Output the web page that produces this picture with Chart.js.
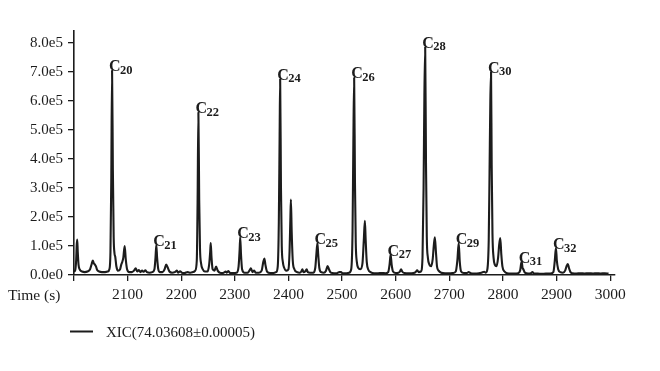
<!DOCTYPE html>
<html>
<head>
<meta charset="utf-8">
<script src="https://cdn.jsdelivr.net/npm/chart.js@4"></script>
<style>
  html, body { margin: 0; padding: 0; background: #ffffff; }
  #wrap { width: 660px; height: 371px; position: relative; }
</style>
</head>
<body>
<div id="wrap"><canvas id="c" width="660" height="371"></canvas></div>
<script>
// ---- data ----
const seriesName = 'XIC(74.03608\u00b10.00005)';
const xAxisTitle = 'Time (s)';
const xTicks = [2000, 2100, 2200, 2300, 2400, 2500, 2600, 2700, 2800, 2900, 3000];
const yTicks = [0, 1e5, 2e5, 3e5, 4e5, 5e5, 6e5, 7e5, 8e5];

const times = [
  2000, 2002, 2004, 2005, 2006, 2007, 2008.5, 2011, 2015, 2020, 2025, 2030, 2033, 2035, 2037, 2039, 2041, 2043, 2047, 2052,
  2058, 2063, 2066, 2068, 2069.5, 2071, 2072.5, 2074, 2075.5, 2077, 2079, 2082, 2086, 2088, 2090, 2092, 2094.5, 2096.5, 2099, 2103,
  2108, 2112, 2115, 2118, 2121, 2124, 2127, 2130, 2133, 2136, 2141, 2146, 2150, 2152, 2153.5, 2155, 2157, 2160, 2165, 2169,
  2172, 2175, 2178, 2183, 2188, 2192, 2194, 2198, 2201, 2206, 2212, 2217, 2222, 2226, 2229, 2230.5, 2232, 2233.5, 2235, 2237,
  2240, 2244, 2249, 2252, 2254, 2255, 2256.5, 2258.5, 2262, 2265, 2268, 2272, 2278, 2283, 2285, 2288, 2291, 2297, 2303, 2307,
  2309, 2310, 2311.5, 2313.5, 2318, 2324, 2328, 2330, 2333, 2336, 2339, 2345, 2350, 2353, 2355, 2357, 2360, 2366, 2372, 2377,
  2380, 2382, 2383.5, 2384.5, 2386, 2387.5, 2389.5, 2392, 2396, 2400, 2402, 2403.5, 2404.5, 2406, 2408, 2411, 2416, 2421, 2424, 2426,
  2428, 2431, 2434, 2436, 2440, 2446, 2450, 2452, 2454, 2455.5, 2457.5, 2461, 2466, 2470, 2473, 2475.5, 2479, 2485, 2490, 2495,
  2498, 2501, 2507, 2513, 2517, 2519.5, 2521, 2522.5, 2524, 2525.5, 2527.5, 2530, 2534, 2538, 2540.5, 2542.5, 2544, 2546, 2549, 2553,
  2560, 2567, 2574, 2581, 2586, 2588.5, 2590.5, 2592.5, 2595, 2600, 2605, 2608, 2610, 2612, 2616, 2625, 2633, 2637, 2640, 2643,
  2647, 2650, 2652, 2653.5, 2655, 2656.5, 2658, 2660, 2663, 2666, 2669, 2671, 2673, 2675, 2677, 2680, 2685, 2692, 2700, 2707,
  2712, 2715, 2717.5, 2719.5, 2722, 2727, 2733, 2736, 2740, 2748, 2755, 2760, 2765, 2768, 2771, 2773.5, 2775, 2776.5, 2777.8, 2779,
  2780.5, 2782.5, 2785, 2788, 2791, 2793, 2795, 2797, 2799, 2803, 2808, 2815, 2822, 2828, 2832, 2834, 2835, 2836.5, 2838, 2841,
  2847, 2852, 2855, 2858, 2865, 2872, 2880, 2888, 2894, 2896.5, 2898, 2899, 2900.5, 2903, 2907, 2912, 2916, 2919, 2921, 2923,
  2926, 2930, 2937, 2945, 2952, 2960, 2968, 2975, 2982, 2990, 2997
];
const intensity = [
  0.12e5, 0.15e5, 0.5e5, 1.0e5, 1.22e5, 0.8e5, 0.35e5, 0.18e5, 0.12e5, 0.1e5, 0.12e5, 0.2e5, 0.38e5, 0.5e5, 0.4e5, 0.36e5, 0.3e5, 0.18e5, 0.12e5, 0.1e5,
  0.1e5, 0.12e5, 0.2e5, 0.8e5, 3.2e5, 7.05e5, 3.6e5, 1.3e5, 0.75e5, 0.62e5, 0.3e5, 0.15e5, 0.2e5, 0.35e5, 0.45e5, 0.6e5, 1.0e5, 0.55e5, 0.2e5, 0.1e5,
  0.1e5, 0.15e5, 0.23e5, 0.12e5, 0.17e5, 0.1e5, 0.15e5, 0.11e5, 0.16e5, 0.1e5, 0.08e5, 0.1e5, 0.2e5, 0.6e5, 1.03e5, 0.6e5, 0.22e5, 0.1e5, 0.1e5, 0.2e5,
  0.36e5, 0.25e5, 0.12e5, 0.08e5, 0.1e5, 0.15e5, 0.08e5, 0.13e5, 0.08e5, 0.07e5, 0.1e5, 0.08e5, 0.1e5, 0.15e5, 0.5e5, 2.5e5, 5.6e5, 2.6e5, 0.9e5, 0.4e5,
  0.2e5, 0.12e5, 0.12e5, 0.35e5, 0.8e5, 1.1e5, 0.6e5, 0.2e5, 0.15e5, 0.29e5, 0.15e5, 0.08e5, 0.07e5, 0.12e5, 0.08e5, 0.14e5, 0.07e5, 0.07e5, 0.08e5, 0.3e5,
  0.9e5, 1.3e5, 0.7e5, 0.2e5, 0.08e5, 0.08e5, 0.18e5, 0.23e5, 0.1e5, 0.15e5, 0.08e5, 0.08e5, 0.15e5, 0.45e5, 0.57e5, 0.35e5, 0.12e5, 0.07e5, 0.07e5, 0.1e5,
  0.3e5, 1.8e5, 4.8e5, 6.75e5, 3.0e5, 1.0e5, 0.45e5, 0.25e5, 0.15e5, 0.2e5, 0.8e5, 1.9e5, 2.6e5, 1.5e5, 0.5e5, 0.2e5, 0.1e5, 0.08e5, 0.12e5, 0.2e5,
  0.1e5, 0.12e5, 0.2e5, 0.1e5, 0.08e5, 0.08e5, 0.25e5, 0.7e5, 1.1e5, 0.7e5, 0.25e5, 0.1e5, 0.08e5, 0.15e5, 0.31e5, 0.2e5, 0.08e5, 0.06e5, 0.06e5, 0.1e5,
  0.1e5, 0.06e5, 0.06e5, 0.08e5, 0.2e5, 1.5e5, 4.5e5, 6.8e5, 3.2e5, 1.1e5, 0.45e5, 0.25e5, 0.2e5, 0.4e5, 1.2e5, 1.87e5, 1.2e5, 0.45e5, 0.18e5, 0.1e5,
  0.06e5, 0.06e5, 0.07e5, 0.06e5, 0.1e5, 0.35e5, 0.7e5, 0.35e5, 0.12e5, 0.07e5, 0.08e5, 0.12e5, 0.2e5, 0.12e5, 0.07e5, 0.06e5, 0.07e5, 0.1e5, 0.16e5, 0.1e5,
  0.12e5, 0.6e5, 3.0e5, 6.2e5, 7.85e5, 3.8e5, 1.3e5, 0.6e5, 0.35e5, 0.3e5, 0.55e5, 1.0e5, 1.3e5, 0.8e5, 0.3e5, 0.15e5, 0.08e5, 0.06e5, 0.06e5, 0.07e5,
  0.12e5, 0.5e5, 1.1e5, 0.45e5, 0.12e5, 0.07e5, 0.07e5, 0.1e5, 0.06e5, 0.05e5, 0.06e5, 0.08e5, 0.11e5, 0.08e5, 0.2e5, 1.2e5, 3.5e5, 6.0e5, 7.0e5, 3.8e5,
  1.4e5, 0.6e5, 0.35e5, 0.3e5, 0.6e5, 1.05e5, 1.27e5, 0.7e5, 0.3e5, 0.12e5, 0.06e5, 0.05e5, 0.05e5, 0.06e5, 0.15e5, 0.4e5, 0.46e5, 0.25e5, 0.2e5, 0.08e5,
  0.05e5, 0.06e5, 0.1e5, 0.05e5, 0.05e5, 0.04e5, 0.05e5, 0.05e5, 0.1e5, 0.45e5, 0.8e5, 0.92e5, 0.5e5, 0.2e5, 0.1e5, 0.08e5, 0.15e5, 0.32e5, 0.38e5, 0.25e5,
  0.1e5, 0.06e5, 0.05e5, 0.06e5, 0.05e5, 0.06e5, 0.05e5, 0.06e5, 0.05e5, 0.06e5, 0.05e5
];

// peak annotations (carbon number, retention time, apex intensity)
const peakNames = ['20', '21', '22', '23', '24', '25', '26', '27', '28', '29', '30', '31', '32'];
const peakTimes = [2071, 2153.5, 2232, 2310, 2384.5, 2454, 2522.5, 2590.5, 2655, 2717.5, 2777.8, 2835, 2899];
const peakValues = [7.05e5, 1.03e5, 5.6e5, 1.3e5, 6.75e5, 1.1e5, 6.8e5, 0.7e5, 7.85e5, 1.1e5, 7.0e5, 0.46e5, 0.92e5];

// ---- chart ----
const FONT = '"Liberation Serif", "Times New Roman", serif';
const INK = '#1c1c1c';

const annotate = {
  id: 'annotate',
  afterDatasetsDraw(chart) {
    const ctx = chart.ctx;
    const xs = chart.scales.x, ys = chart.scales.y;
    ctx.save();
    ctx.fillStyle = INK;
    ctx.textAlign = 'left';
    ctx.textBaseline = 'alphabetic';
    peakNames.forEach((n, i) => {
      const px = xs.getPixelForValue(peakTimes[i]);
      const py = ys.getPixelForValue(peakValues[i]);
      const x0 = px - 3, y0 = py + 1;
      ctx.font = 'bold 16px ' + FONT;
      ctx.fillText('C', x0, y0);
      const w = ctx.measureText('C').width;
      ctx.font = 'bold 12.5px ' + FONT;
      ctx.fillText(n, x0 + w - 0.5, y0 + 2.5);
    });
    ctx.restore();
  },
  afterDraw(chart) {
    const ctx = chart.ctx;
    ctx.save();
    ctx.fillStyle = INK;
    ctx.font = '15.5px ' + FONT;
    ctx.textAlign = 'left';
    ctx.textBaseline = 'alphabetic';
    // axis title, placed on the tick-label line
    ctx.fillText(xAxisTitle, 8, 300);
    // legend
    ctx.strokeStyle = INK;
    ctx.lineWidth = 2;
    ctx.beginPath();
    ctx.moveTo(70, 331.5);
    ctx.lineTo(93, 331.5);
    ctx.stroke();
    ctx.font = '15px ' + FONT;
    ctx.fillText(seriesName, 106, 337);
    ctx.restore();
  }
};

new Chart(document.getElementById('c'), {
  type: 'line',
  data: {
    datasets: [{
      label: seriesName,
      data: times.map((t, i) => ({ x: t, y: intensity[i] })),
      borderColor: INK,
      borderWidth: 2.1,
      pointRadius: 0,
      fill: false,
      cubicInterpolationMode: 'monotone'
    }]
  },
  options: {
    responsive: false,
    animation: false,
    devicePixelRatio: 1,
    layout: { padding: { left: 0, right: 45, top: 31, bottom: 0 } },
    plugins: { legend: { display: false }, tooltip: { enabled: false } },
    scales: {
      x: {
        type: 'linear',
        min: 2000,
        max: 3009,
        afterBuildTicks(scale) { scale.ticks = xTicks.map(v => ({ value: v })); },
        afterFit(scale) { scale.height = 96; },
        ticks: {
          color: INK,
          font: { family: FONT, size: 15.5 },
          padding: 5,
          maxRotation: 0,
          autoSkip: false,
          callback: v => (v === 2000 ? '' : String(v))
        },
        grid: { display: true, drawOnChartArea: false, drawTicks: true, tickLength: 6, color: INK, lineWidth: 1.3 },
        border: { display: true, color: INK, width: 1.6 }
      },
      y: {
        type: 'linear',
        min: 0,
        max: 8.4e5,
        afterBuildTicks(scale) { scale.ticks = yTicks.map(v => ({ value: v })); },
        afterFit(scale) { scale.width = 74; },
        ticks: {
          color: INK,
          font: { family: FONT, size: 15 },
          padding: 5,
          callback: v => Number(v).toExponential(1).replace('+', '')
        },
        grid: { display: true, drawOnChartArea: false, drawTicks: true, tickLength: 6, color: INK, lineWidth: 1.3 },
        border: { display: true, color: INK, width: 1.6 }
      }
    }
  },
  plugins: [annotate]
});
</script>
</body>
</html>
